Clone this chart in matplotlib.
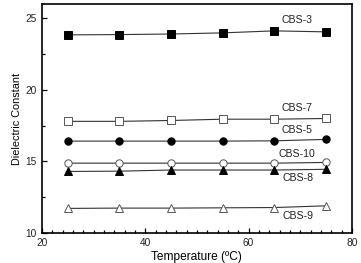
import matplotlib
matplotlib.use('Agg')
import matplotlib.pyplot as plt
from matplotlib.ticker import MultipleLocator

plt.rcParams['font.family'] = ['Liberation Sans', 'DejaVu Sans']

temps = [25, 35, 45, 55, 65, 75]
cbs3 = [23.84, 23.86, 23.9, 23.98, 24.12, 24.05]
cbs7 = [17.8, 17.8, 17.86, 17.95, 17.95, 18.0]
cbs5 = [16.42, 16.42, 16.42, 16.42, 16.44, 16.54]
cbs10 = [14.88, 14.88, 14.88, 14.88, 14.88, 14.93]
cbs8 = [14.3, 14.32, 14.4, 14.4, 14.4, 14.45]
cbs9 = [11.72, 11.74, 11.74, 11.76, 11.78, 11.9]

names = ['CBS-3', 'CBS-7', 'CBS-5', 'CBS-10', 'CBS-8', 'CBS-9']
label_x = [69.3, 69.3, 69.3, 69.3, 69.6, 69.6]
label_y = [24.86, 18.72, 17.18, 15.5, 13.83, 11.18]


def main():
    fig = plt.figure(figsize=(3.61, 2.63), dpi=100)
    ax = fig.add_axes([0.116, 0.114, 0.859, 0.871])
    series = [(cbs3, 's', 'black'), (cbs7, 's', 'white'), (cbs5, 'o', 'black'),
              (cbs10, 'o', 'white'), (cbs8, '^', 'black'), (cbs9, '^', 'white')]
    for vals, mk, fc in series:
        ax.plot(temps, vals, color='#333333', lw=0.8, marker=mk, ms=5.3,
                mfc=fc, mec='black' if fc == 'black' else '#555555', mew=0.7)
    for n, x, y in zip(names, label_x, label_y):
        ax.text(x, y, n, fontsize=7.6, ha='center', va='center', color='#222222')

    ax.set_xlim(20, 80)
    ax.set_ylim(10, 26)
    ax.xaxis.set_major_locator(MultipleLocator(20))
    ax.xaxis.set_minor_locator(MultipleLocator(2))
    ax.yaxis.set_major_locator(MultipleLocator(5))
    ax.yaxis.set_minor_locator(MultipleLocator(2.5))
    ax.tick_params(which='both', direction='in', labelsize=7.3, width=0.9,
                   labelcolor='#222222')
    ax.tick_params(which='major', length=3.5)
    ax.tick_params(which='minor', length=2)
    for s in ax.spines.values():
        s.set_linewidth(1.2)
    ax.set_xlabel('Temperature (ºC)', fontsize=8.6, labelpad=2.5)
    ax.set_ylabel('Dielectric Constant', fontsize=7.8, labelpad=3)
    fig.savefig('out.png', dpi=100)


if __name__ == '__main__':
    main()
